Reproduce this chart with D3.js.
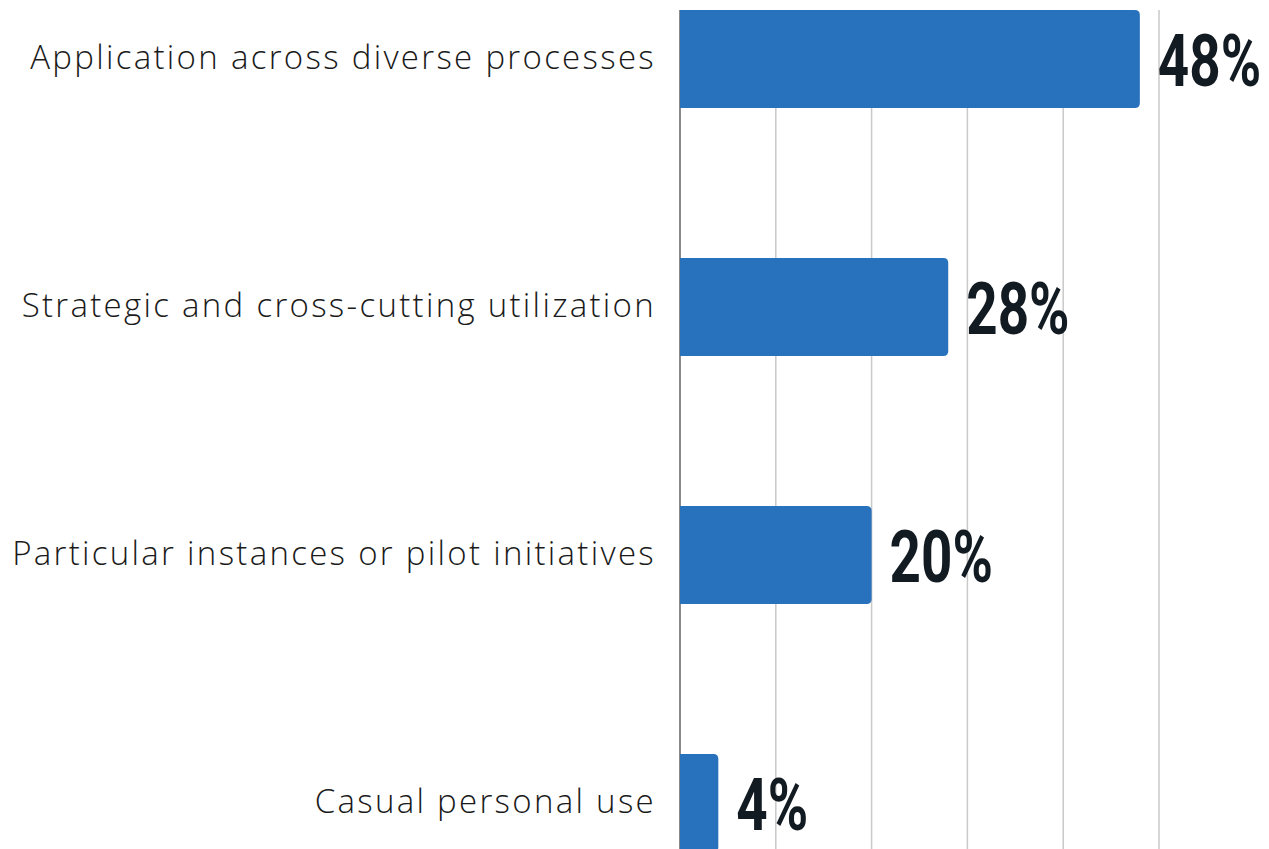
<!DOCTYPE html>
<html>
<head>
<meta charset="utf-8">
<script src="https://cdn.jsdelivr.net/npm/d3@7"></script>
<style>
  html, body { margin: 0; padding: 0; background: #ffffff; }
  svg { display: block; }
</style>
</head>
<body>
<div id="chart"></div>
<script>
// Share of respondents by type of usage
const categories = [
  "Application across diverse processes",
  "Strategic and cross-cutting utilization",
  "Particular instances or pilot initiatives",
  "Casual personal use"
];
const values = [48, 28, 20, 4];
const gridTicks = [0, 10, 20, 30, 40, 50];

const W = 1269, H = 849;
const plotLeft = 680, plotRight = 1159, plotTop = 10;

const svg = d3.select("#chart").append("svg")
  .attr("width", W).attr("height", H);

const x = d3.scaleLinear().domain([0, 50]).range([plotLeft, plotRight]);
const y = d3.scaleBand().domain(categories)
  .range([plotTop, plotTop + 842]).paddingInner(0.605).paddingOuter(0);

// vertical gridlines
svg.append("g").selectAll("line")
  .data(gridTicks.filter(d => d > 0))
  .join("line")
  .attr("x1", d => x(d)).attr("x2", d => x(d))
  .attr("y1", plotTop).attr("y2", H)
  .attr("stroke", "#c9c9c9").attr("stroke-width", 1.5);

// baseline
svg.append("line")
  .attr("x1", x(0)).attr("x2", x(0))
  .attr("y1", plotTop).attr("y2", H)
  .attr("stroke", "#8a8a8a").attr("stroke-width", 2);

// bars: square on the baseline, rounded at the value end
const r = 5;
function barPath(d, i) {
  const x0 = x(0), x1 = x(d), y0 = y(categories[i]), h = y.bandwidth();
  const rr = Math.min(r, (x1 - x0) / 2);
  return `M${x0},${y0}H${x1 - rr}Q${x1},${y0} ${x1},${y0 + rr}` +
         `V${y0 + h - rr}Q${x1},${y0 + h} ${x1 - rr},${y0 + h}H${x0}Z`;
}
svg.append("g").selectAll("path")
  .data(values)
  .join("path")
  .attr("d", barPath)
  .attr("fill", "#2771bd");

// category labels
svg.append("g").selectAll("text")
  .data(categories)
  .join("text")
  .attr("x", plotLeft - 24)
  .attr("y", d => y(d) + y.bandwidth() / 2 + 10)
  .attr("text-anchor", "end")
  .attr("font-family", "'Open Sans', sans-serif")
  .attr("font-size", 33)
  .attr("font-weight", 350)
  .attr("letter-spacing", 2.3)
  .attr("fill", "#1a1a1a")
  .text(d => d);

// value labels (condensed bold)
const sx = 0.75;
svg.append("g").selectAll("text")
  .data(values)
  .join("text")
  .attr("transform", (d, i) =>
    `translate(${x(d) + 18},${y(categories[i]) + y.bandwidth() / 2 + 27}) scale(${sx},1)`)
  .attr("font-family", "Roboto, sans-serif")
  .attr("font-size", 73)
  .attr("font-weight", 700)
  .attr("fill", "#121a22")
  .text(d => d + "%");
</script>
</body>
</html>
